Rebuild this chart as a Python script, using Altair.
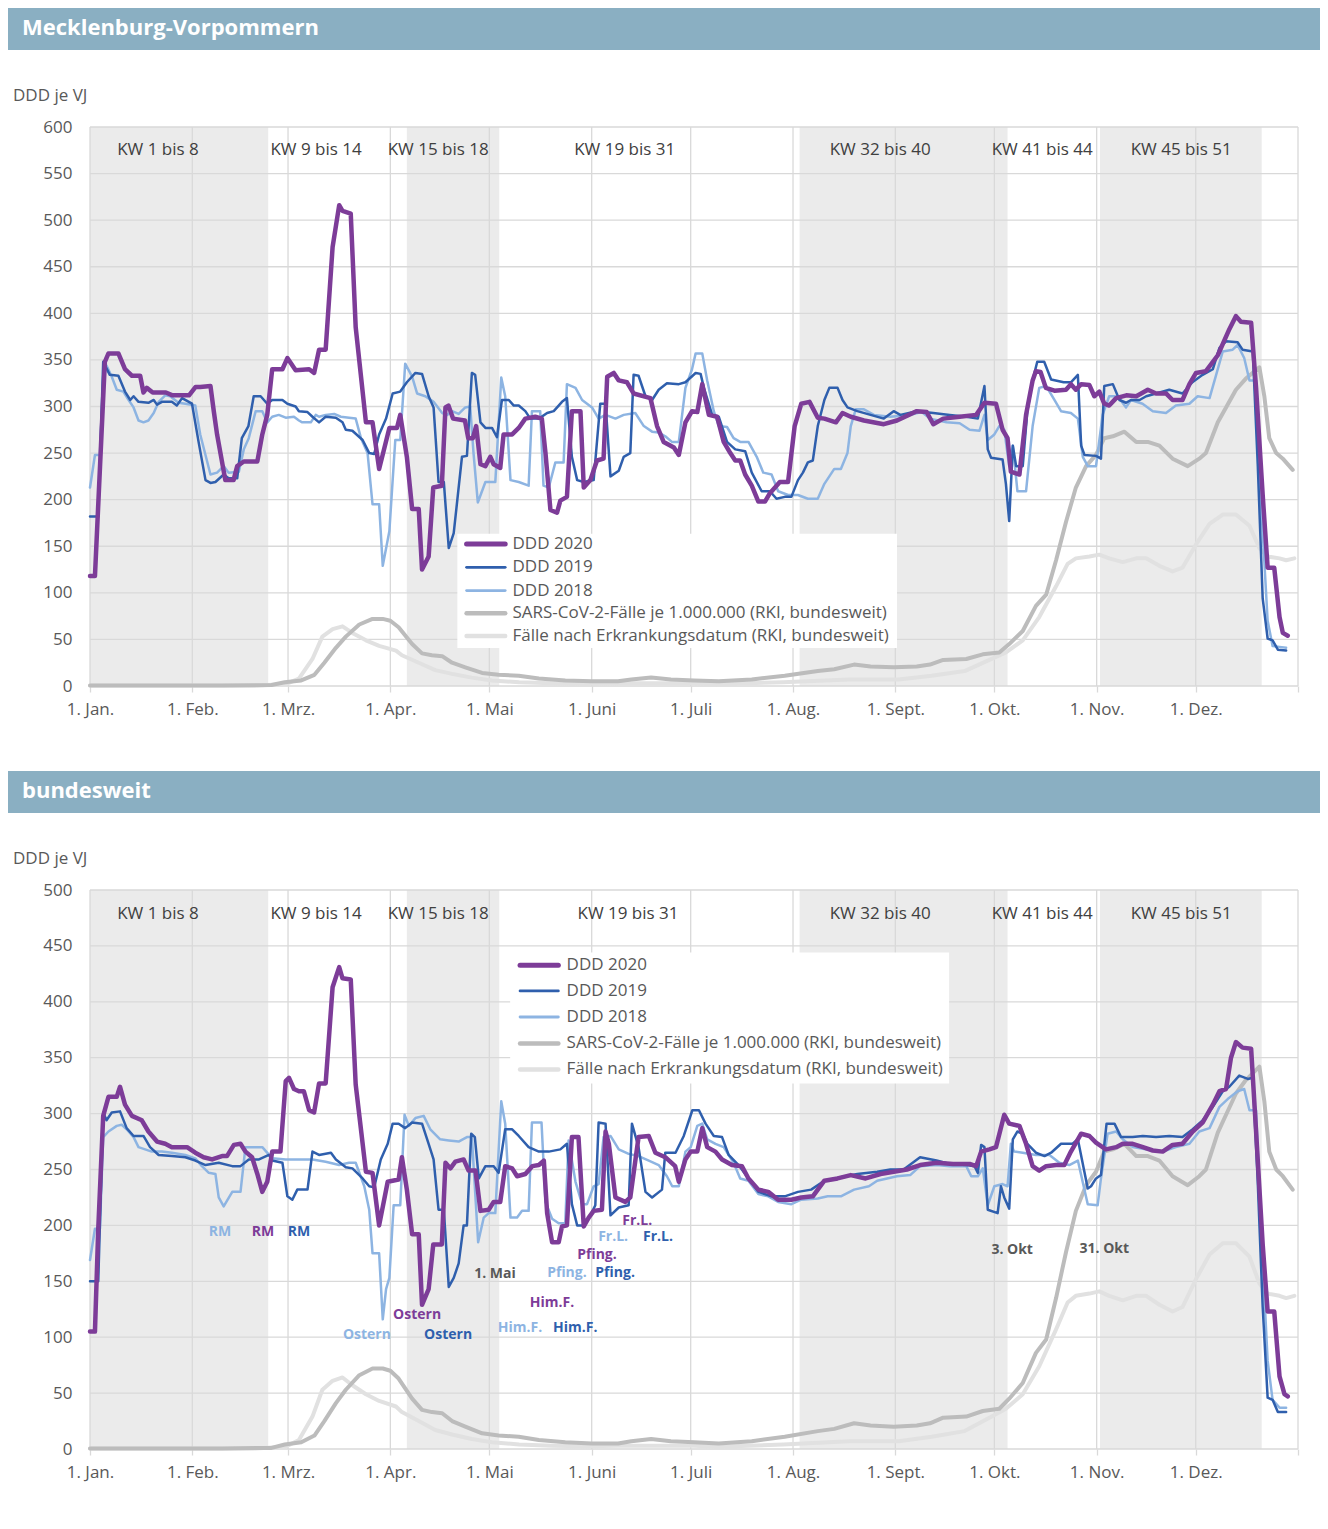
import altair as alt
import pandas as pd

# ---------------- data ----------------
MONTH_DAYS = [0, 31, 60, 91, 121, 152, 182, 213, 244, 274, 305, 335]
MONTH_LABELS = ["1. Jan.", "1. Feb.", "1. Mrz.", "1. Apr.", "1. Mai", "1. Juni",
                "1. Juli", "1. Aug.", "1. Sept.", "1. Okt.", "1. Nov.", "1. Dez."]
YEAR_END = 366

KW_BANDS = [(0, 54), (96, 124), (215, 278), (306, 355)]
KW_LABELS = ["KW 1 bis 8", "KW 9 bis 14", "KW 15 bis 18", "KW 19 bis 31",
             "KW 32 bis 40", "KW 41 bis 44", "KW 45 bis 51"]
KW_DAYS_MV = [20.6, 68.5, 105.5, 162, 239.4, 288.5, 330.6]
KW_DAYS_DE = [20.6, 68.5, 105.5, 163, 239.4, 288.5, 330.6]

SERIES = ["DDD 2020", "DDD 2019", "DDD 2018",
          "SARS-CoV-2-Fälle je 1.000.000 (RKI, bundesweit)",
          "Fälle nach Erkrankungsdatum (RKI, bundesweit)"]

# Mecklenburg-Vorpommern (day of year, DDD je VJ)
MV_2020 = [(0,118),(1.5,118),(4.5,348),(5.6,357),(8.6,357),(10.6,340),(12.7,333),(15.2,333),(16.2,315),(17.2,320),(19,315),(23,315),(25,312),(30,312),(32,321),(33.4,321),(36.5,322),(37.5,295),(38.5,270),(41,221),(43.5,221),(44.6,236),(46.6,241),(50.7,241),(52.2,270),(53.7,291),(55.2,340),(58.3,340),(59.8,352),(62.3,339),(66.4,340),(67.9,336),(69.4,361),(71.4,361),(73.5,471),(75.5,516),(76.5,510),(79,507),(80.5,385),(83.6,283),(85.6,283),(87.6,233),(90.7,277),(93,277),(94,291),(96,246),(97.6,190),(99.6,190),(100.6,125),(102.6,139),(104,213),(106.6,215),(107.7,299),(108.6,301),(110,287),(113.6,285),(114.6,266),(116,266),(117,279),(118.3,238),(119.8,236),(121.3,246),(122.3,238),(124.3,234),(125.3,270),(127.9,270),(129.9,277),(131.9,287),(134.9,289),(136.9,287),(138,250),(139.5,189),(141.5,186),(142.5,199),(144.5,203),(146,295),(148.6,295),(149.6,213),(151.6,221),(153.6,242),(155.6,244),(156.7,332),(158.7,336),(160.2,328),(162.7,326),(164.7,314),(169.8,309),(171.8,279),(173.8,262),(176.9,256),(178.4,248),(180.4,283),(182.4,295),(184,294),(185.5,324),(187.5,291),(190,289),(192,262),(194,250),(195.5,242),(197,242),(198.5,227),(200.5,215),(202.5,198),(204.5,198),(206,207),(209,219),(211.5,219),(213.5,279),(215.5,303),(218,305),(220.5,288),(222.5,287),(226,283),(228,293),(230.5,289),(234.5,285),(240.5,281),(244.5,285),(250.5,295),(253.5,294),(255.5,281),(258.5,287),(263.5,289),(268.5,291),(271,304),(274.5,303),(276.5,275),(278,266),(279,230),(281.6,227),(283.6,291),(285.6,328),(286.6,338),(288,337),(289.6,320),(292.2,317),(295.7,318),(297.2,324),(298.7,318),(300.3,324),(302.8,323),(304.3,311),(305.8,316),(307.3,303),(308.8,301),(310.9,309),(314,312),(317,311),(320.5,318),(323,314),(326,314),(328,307),(331,307),(333.1,324),(335.1,336),(338.1,338),(341.7,355),(345.2,383),(347.2,397),(348.7,391),(351.8,390),(353.3,320),(355.3,205),(356.8,127),(358.8,127),(360.4,74),(361.4,57),(362.9,54)]
MV_2019 = [(0,182),(2.5,182),(4,348),(6,334),(8.6,333),(10.6,316),(12.2,307),(13.2,311),(14.7,305),(17.7,304),(19.3,307),(20.3,302),(21.8,305),(24.8,305),(26.3,301),(27.9,309),(30.9,303),(32.9,262),(35,221),(36.5,218),(38,219),(40.5,227),(42,223),(44.6,223),(46,266),(48,279),(49.6,311),(51.7,311),(53.7,303),(55.2,307),(58.3,307),(59.8,303),(62.3,300),(63.3,295),(65.9,294),(67.4,289),(69.4,283),(71.4,289),(74.5,288),(76.5,283),(77.5,275),(79.5,274),(82.6,264),(84.6,250),(86.1,249),(87.6,270),(89.7,287),(91.7,314),(94,316),(96,326),(98.6,336),(100.6,335),(102.6,311),(104.1,299),(105.6,219),(107.2,219),(108.7,148),(110.2,164),(112.7,246),(114.2,247),(115.7,336),(116.7,334),(118.3,283),(119.8,277),(121.8,277),(123.3,267),(124.8,307),(126.9,307),(128.4,301),(129.9,301),(131.9,295),(133.4,287),(136,287),(138.5,293),(140.5,295),(142,301),(143,305),(144.5,309),(146,246),(147.6,221),(149.6,219),(152.6,221),(154.6,303),(156.2,303),(157.7,225),(160.2,231),(161.7,246),(163.7,250),(164.7,334),(166.2,333),(168.3,311),(170.3,307),(172.3,318),(174.8,325),(178.4,324),(180.4,326),(183.5,336),(185,335),(186,320),(188.5,291),(190.5,289),(193,262),(195.5,254),(198.5,252),(200.5,229),(203.5,209),(206,209),(208,201),(210.5,203),(212.5,203),(214.5,221),(216,229),(217.5,240),(219,242),(220.5,279),(222.5,307),(224,320),(226.5,320),(228,307),(229.5,299),(232.5,295),(236.5,291),(240.5,287),(243.5,295),(245.5,291),(250.5,295),(255.5,293),(260.5,291),(265.5,289),(269,287),(271,322),(272,254),(273,245),(276.5,243),(277.5,217),(278.5,177),(279.6,258),(280.6,236),(282.6,236),(284,295),(285.6,328),(287,348),(289.1,348),(291.2,329),(295,326),(297.2,326),(299.3,334),(300.3,258),(301.3,248),(304.8,247),(306.3,244),(307.3,322),(309.9,324),(311.9,307),(313.9,304),(315.4,307),(318,307),(320,311),(323,314),(327,318),(331,314),(334,326),(337.1,334),(340.2,340),(342.2,363),(344.2,370),(347.7,369),(349.2,361),(352.3,359),(353.8,238),(355.3,94),(356.8,51),(358.3,49),(359.9,39),(362.4,38)]
MV_2018 = [(0,213),(1.5,248),(3,248),(4,328),(5,344),(6.6,332),(8.1,318),(10.1,316),(11.7,307),(13.2,299),(14.7,285),(16.2,283),(17.7,285),(19.3,293),(20.8,305),(22.8,312),(24.3,311),(26.8,304),(28.9,303),(31.9,301),(33.4,270),(36.5,227),(38.5,229),(40.5,236),(42,229),(45.1,230),(46.6,254),(48.1,266),(50.2,295),(52.2,295),(53.7,283),(55.2,289),(57.2,291),(59.3,288),(61.8,289),(63.3,285),(64.3,283),(66.9,283),(68.4,291),(69.4,289),(71.4,291),(74,292),(76,289),(78.5,288),(80.5,287),(82.1,266),(84.1,250),(85.6,195),(87.6,195),(88.7,129),(90.7,166),(91.7,221),(92.5,264),(94,264),(95.5,346),(97.6,332),(99.1,314),(101.6,311),(104.1,305),(106.7,293),(108.2,291),(109.7,295),(111.7,292),(113.7,299),(115.2,300),(116.2,250),(117.5,197),(119.8,219),(122.8,219),(124.6,331),(125.8,311),(127.4,221),(129.9,219),(132.9,215),(133.9,295),(136.4,295),(137.4,215),(139,213),(141,240),(143.5,240),(144.5,324),(147.1,320),(149.1,307),(152.1,299),(154.1,287),(156.2,291),(159.2,287),(161.7,291),(165.2,293),(167.8,279),(170.3,273),(172.3,272),(174.3,268),(176.3,262),(178.4,262),(180.4,320),(182.4,340),(183.5,357),(185.5,357),(187,328),(189,295),(190.5,279),(193,278),(195,266),(197,262),(199.5,262),(202,246),(204,229),(206.5,227),(208.5,209),(211.5,205),(214.5,205),(217.5,201),(220.5,201),(222.5,217),(225.5,233),(227.5,233),(229.5,250),(230.5,279),(232,297),(234.5,297),(237.5,291),(242.5,289),(248.5,291),(252,294),(254.5,287),(259.5,283),(263.5,282),(266.5,275),(269.5,274),(271,291),(272,264),(274,270),(275.5,279),(277,275),(278.5,236),(279.6,258),(281,209),(283.6,209),(285.6,279),(287.6,320),(289.7,322),(292.2,307),(294.2,295),(297.2,293),(299.3,287),(300.8,246),(302.3,236),(304.8,236),(306.8,291),(308.8,311),(311.4,311),(313.9,299),(315.4,307),(318.9,303),(322,295),(326,293),(329,301),(333.1,303),(335.6,311),(339.2,309),(341.2,334),(343.2,359),(346.2,361),(347.7,366),(349.7,352),(351.3,328),(353.3,328),(354.8,197),(356.8,70),(358.3,43),(360.4,42),(362.4,41)]

# bundesweit
DE_2020 = [(0,105),(1.5,105),(2.5,197),(4,298),(5.6,315),(8.1,315),(9.1,324),(10.6,308),(12.7,298),(15.7,294),(17.7,284),(20.3,275),(22.8,273),(24.8,270),(29.4,270),(31.9,265),(34.4,261),(37,259),(40,262),(41.5,262),(43.6,272),(45.6,273),(47.1,266),(49.1,261),(50.7,246),(52.2,230),(53.7,239),(55.2,266),(57.7,266),(59.3,329),(60.3,332),(61.8,322),(63.3,320),(64.8,320),(66.4,303),(67.9,301),(69.4,327),(71.4,327),(73.5,413),(75.5,431),(76.5,421),(79,420),(80.5,326),(83.6,248),(85.6,247),(87.6,200),(90.2,239),(93.5,241),(94.5,261),(96,232),(97.6,192),(99.6,192),(100.6,129),(102.6,143),(104,183),(106.6,183),(107.7,256),(109.2,251),(110.7,257),(113.2,259),(114.7,249),(116.8,249),(118.3,213),(120.8,214),(122.3,221),(124.3,221),(125.8,253),(127.9,251),(129.4,244),(131.9,246),(134,253),(136,254),(137.5,258),(138.5,211),(140,185),(142,185),(143,199),(144.5,200),(146,279),(148,279),(149.6,199),(151.1,207),(152.6,213),(155.1,214),(156.2,284),(157.2,273),(159.2,225),(162.2,221),(163.7,225),(166.2,279),(169.3,280),(171.3,265),(174.3,261),(177.3,253),(178.4,239),(180.4,259),(182,266),(184,266),(185.5,287),(187,270),(189.5,266),(191.5,259),(194.5,254),(197.5,253),(199.5,242),(202.5,232),(205.5,230),(208.5,223),(212.5,223),(215.5,225),(219,226),(222.5,240),(226.5,242),(230.5,245),(235,242),(239.5,246),(243.5,248),(247.5,250),(251.5,254),(256.5,256),(261.5,255),(266.5,255),(268.5,253),(270,266),(272.5,268),(274.5,270),(277,299),(278.5,291),(281.6,289),(283.6,273),(285.6,253),(287.6,249),(289.7,253),(292.7,254),(295.2,254),(297.2,266),(300.3,282),(302.8,280),(304.8,274),(307.8,268),(310.9,270),(312.9,273),(315.9,273),(319,270),(322,267),(325,266),(328,272),(331,273),(334.1,284),(337.1,292),(340.2,308),(342.2,320),(344.2,322),(345.7,350),(347.2,364),(349.2,359),(351.8,358),(353.3,284),(355.3,183),(356.8,123),(358.8,123),(360.4,65),(361.9,49),(362.9,47)]
DE_2019 = [(0,150),(2.5,150),(4,301),(5,294),(6.6,301),(9.1,302),(11.1,287),(13.2,280),(16.2,280),(18.2,270),(20.8,263),(24.8,262),(28.9,261),(31.9,258),(35,254),(39,256),(43.1,253),(45.6,253),(48.1,259),(51.2,259),(54.2,263),(55.2,258),(58.3,256),(59.8,226),(61.3,223),(62.8,232),(65.9,232),(67.4,266),(69.4,263),(73,265),(74.5,259),(77.5,252),(79.5,251),(82.6,242),(84.6,235),(86.1,234),(88.1,259),(90.2,273),(91.7,291),(93.5,291),(95.5,287),(97.6,292),(100.6,291),(102.6,273),(104.1,259),(105.6,214),(107.2,214),(108.7,145),(110.2,153),(111.7,166),(113.2,200),(114.2,200),(115.5,282),(116.6,279),(117.8,242),(119.8,253),(122.3,253),(123.8,247),(125.8,286),(127.9,286),(129.9,280),(132.9,270),(136,266),(139,266),(142.5,268),(144.5,273),(146,219),(147.6,200),(149.6,200),(151.6,209),(153.1,218),(154.1,292),(156.2,291),(157.7,209),(160.2,216),(163.2,218),(164.2,291),(166.2,270),(168.3,230),(170.3,225),(173.3,232),(174.3,265),(177.4,265),(179.9,280),(182.5,303),(184.5,303),(186.5,291),(189,280),(191.5,279),(193.5,263),(196.5,254),(199.5,242),(202.5,230),(206.5,226),(210.5,226),(214.5,230),(218.5,232),(222.5,240),(227.5,243),(232.5,246),(238.5,248),(242.5,250),(246.5,250),(251.5,261),(256.5,258),(260.5,255),(265.5,254),(268,253),(269,247),(270,272),(271,270),(272,214),(275,211),(276,235),(277,225),(278.5,215),(279.6,277),(281,284),(282.6,282),(284,273),(286.6,265),(289.2,262),(291.2,265),(294.2,273),(297.7,273),(299.3,277),(302.3,233),(303.3,235),(304.8,242),(306.3,245),(308,291),(310.4,291),(312.4,279),(315.9,279),(319,280),(323,279),(327,280),(331,279),(334.1,286),(337.1,294),(340.2,306),(343.2,320),(345.2,324),(348.2,334),(350.8,331),(352.3,332),(353.8,239),(355.3,127),(356.8,46),(358.3,44),(359.9,33),(362.4,33)]
DE_2018 = [(0,169),(1.5,197),(3,197),(4,279),(5.6,284),(8.1,289),(9.6,290),(11.1,286),(13.2,279),(14.7,270),(16.7,268),(18.7,266),(21.8,266),(24.8,265),(28.9,263),(31.9,260),(33.9,253),(36,247),(38,246),(39,225),(40.5,217),(43.1,230),(45.6,230),(47.1,270),(49.1,270),(52.2,270),(55.2,260),(59.3,259),(63.3,259),(67.4,259),(71.4,257),(75.5,254),(78.5,256),(80.5,256),(83.1,235),(84.6,214),(85.6,175),(87.6,175),(88.7,116),(89.7,143),(90.7,153),(92,218),(94,218),(95.3,299),(96.6,289),(98.6,296),(101.1,298),(103.1,286),(106.1,277),(108.7,276),(111.7,275),(114.2,279),(115.7,279),(117.6,185),(119.3,207),(120.8,211),(122.8,211),(124.6,311),(125.8,291),(127.4,207),(129.4,207),(130.9,213),(132.9,213),(133.9,292),(136.8,292),(138,221),(140,206),(142,202),(144,202),(145,276),(147.1,239),(149.1,219),(150.6,219),(152.6,235),(154.1,237),(155.6,279),(157.7,280),(160.2,268),(163.2,264),(166.2,262),(169.3,258),(172.3,254),(174.8,244),(176.4,235),(178.4,235),(180.4,266),(182,270),(184,289),(185.5,291),(187,277),(189.5,273),(192,270),(195,256),(197,242),(199.5,240),(202.5,228),(205.5,226),(208.5,221),(212.5,219),(215.5,223),(220.5,224),(223.5,226),(227.5,226),(231.5,232),(236,235),(238.5,240),(244.5,244),(248.5,245),(251.5,253),(256.5,254),(260.5,253),(265.5,253),(267,244),(269,244),(270.5,251),(272,218),(274,235),(276.5,237),(278,235),(279,273),(280,266),(282.6,265),(286.6,263),(290.7,263),(293.7,256),(296.7,254),(299.3,258),(302.3,219),(305.3,218),(306.3,242),(308.3,282),(310.9,284),(312.9,277),(315.9,270),(319.9,268),(325,266),(329,270),(333.1,273),(336.1,284),(339.2,287),(342.2,306),(344.7,313),(347.7,320),(349.7,322),(351.3,303),(353.3,303),(354.8,197),(356.8,79),(358.3,44),(360.4,37),(362.4,37)]

# RKI (bundesweit, shown in both panels)
RKI_FAELLE = [(0,0.5),(40,0.5),(55,1),(59,4),(64,6),(68,12),(71,25),(74.5,41),(77.5,53),(81.6,66),(85.6,72),(88.7,72),(91,70),(93.5,63),(97.6,45),(100.6,35),(103.6,33),(106.7,32),(109.7,25),(113.7,20),(118.8,14),(123.8,12),(129.9,11),(136,8),(144,6),(152,5),(160,5),(164,7),(170,9),(176,7),(183,6),(190.5,5),(200.5,7),(210.5,11),(220.5,16),(225.5,18),(231.5,23),(236.5,21),(243.5,20),(250.5,21),(254.5,23),(258.5,28),(265.5,29),(270.5,34),(275.5,36),(278.5,45),(282.6,59),(286.6,86),(289.7,98),(292.7,135),(295.7,176),(298.7,213),(301.8,236),(304.8,248),(307.3,266),(309.9,268),(313.4,273),(317,262),(320.5,262),(324,258),(328,244),(332.6,236),(336.1,244),(338.1,250),(341.7,283),(344.2,299),(347.2,318),(350.2,330),(354.3,342),(355.8,311),(357.3,266),(359.4,250),(361.4,244),(364.4,232)]
RKI_ERKRANKUNG = [(0,0.5),(50,0.5),(59.3,2),(63.3,8),(67.4,29),(70.4,53),(73.5,61),(76.5,64),(79.5,57),(83.6,49),(87.6,43),(92.7,38),(94.5,33),(99.6,25),(104.6,17),(109.7,13),(115.7,9),(121.8,6),(130,4),(140,3),(150,2.5),(160,3),(170,3),(183,3),(190,2),(210,4),(230,7),(245,7),(255,11),(265,16),(272.5,28),(277.5,36),(282.6,49),(287.6,74),(292.7,107),(296.2,131),(298.7,137),(302.8,139),(305.8,141),(308.8,137),(312.9,133),(317,137),(320,137),(324,129),(328,123),(331,127),(335.1,152),(339.2,174),(343.2,184),(347.2,184),(351.3,172),(354.3,148),(356.8,139),(360.4,137),(362.4,135),(364.9,137)]

# annotations (bundesweit): day, value, text, colour key
NOTES_DE = [(39.4,194,"RM","c18"),(52.4,194,"RM","c20"),(63.3,194,"RM","c19"),
            (83.9,102,"Ostern","c18"),(99.1,120,"Ostern","c20"),(108.5,102,"Ostern","c19"),
            (122.7,156.5,"1. Mai","txt"),
            (140,130.6,"Him.F.","c20"),(130.3,108,"Him.F.","c18"),(147,108,"Him.F.","c19"),
            (144.5,157.4,"Pfing.","c18"),(159.1,157.4,"Pfing.","c19"),(153.6,173.5,"Pfing.","c20"),
            (165.8,204,"Fr.L.","c20"),(158.5,189.6,"Fr.L.","c18"),(172.1,189.6,"Fr.L.","c19"),
            (279.4,178,"3. Okt","txt"),(307.3,179,"31. Okt","txt")]

# legend placement in data units: box (x0,x1,y0,y1), symbol x-range, text x, row values
LEG_MV = dict(box=(111.3, 244.5, 40.8, 163.5), sym=(114.1, 125.8), text=128.0,
              rows=[152.4, 127.4, 102.4, 78.1, 53.7])
LEG_DE = dict(box=(127.3, 260.3, 327, 444), sym=(130.3, 141.9), text=144.4,
              rows=[432.7, 409.7, 386.4, 362.8, 339.5])

# ---------------- styles ----------------
FONT = "Open Sans"
GRID = "#d9d9d9"
BAND = "#ebebeb"
LABEL = "#595959"
HEADER = "#8aafc2"
COL = {"c20": "#7d3c98", "c19": "#2f5fad", "c18": "#8db4e2",
       "sars": "#bcbcbc", "erk": "#e1e1e1", "txt": "#595959"}
SERIES_COLORS = [COL["c20"], COL["c19"], COL["c18"], COL["sars"], COL["erk"]]
SERIES_WIDTHS = [4.5, 2.5, 2.5, 4.0, 4.0]
PLOT_W, PLOT_H = 1208, 559

LABEL_EXPR = ("[" + ",".join("'" + l + "'" for l in MONTH_LABELS + [""]) + "][indexof(["
              + ",".join(str(d) for d in MONTH_DAYS + [YEAR_END]) + "], datum.value)]")


def panel(title, ymax, s20, s19, s18, kw_days, kw_val, leg, notes):
    xs = alt.Scale(domain=[0, YEAR_END], nice=False, zero=False)
    ys = alt.Scale(domain=[0, ymax], nice=False, zero=True)
    xaxis = alt.Axis(values=MONTH_DAYS + [YEAR_END], labelExpr=LABEL_EXPR, title=None,
                     grid=False, domain=False, ticks=True, tickColor=GRID, tickSize=6,
                     tickWidth=1.3, labelFontSize=17, labelColor=LABEL, labelPadding=9,
                     labelFont=FONT, labelOverlap=False, labelFlush=False)
    yaxis = alt.Axis(values=list(range(0, ymax + 1, 50)), title=None, grid=False,
                     domain=False, ticks=False, labelFontSize=17, labelColor=LABEL,
                     labelPadding=18, labelFont=FONT)

    def X(f):
        return alt.X(f, scale=xs, axis=xaxis)

    def Y(f):
        return alt.Y(f, scale=ys, axis=yaxis)

    layers = []
    bands = pd.DataFrame(KW_BANDS, columns=["a", "b"])
    bands["y0"] = 0
    bands["y1"] = ymax
    layers.append(alt.Chart(bands).mark_rect(color=BAND).encode(
        x=X("a:Q"), x2="b:Q", y=Y("y0:Q"), y2="y1:Q"))
    hg = pd.DataFrame({"v": list(range(0, ymax + 1, 50))})
    layers.append(alt.Chart(hg).mark_rule(color=GRID, strokeWidth=1.3).encode(y=Y("v:Q")))
    vg = pd.DataFrame({"d": MONTH_DAYS + [YEAR_END]})
    layers.append(alt.Chart(vg).mark_rule(color=GRID, strokeWidth=1.3).encode(x=X("d:Q")))
    kw = pd.DataFrame({"d": kw_days, "t": KW_LABELS})
    kw["v"] = kw_val
    layers.append(alt.Chart(kw).mark_text(fontSize=17, color="#404040", font=FONT).encode(
        x=X("d:Q"), y=Y("v:Q"), text="t:N"))

    series_data = [s20, s19, s18, RKI_FAELLE, RKI_ERKRANKUNG]
    for i in [4, 3, 2, 1, 0]:
        df = pd.DataFrame(series_data[i], columns=["d", "v"])
        layers.append(alt.Chart(df).mark_line(
            color=SERIES_COLORS[i], strokeWidth=SERIES_WIDTHS[i],
            strokeJoin="round", strokeCap="round").encode(x=X("d:Q"), y=Y("v:Q")))

    bx = leg["box"]
    box = pd.DataFrame({"x0": [bx[0]], "x1": [bx[1]], "y0": [bx[2]], "y1": [bx[3]]})
    layers.append(alt.Chart(box).mark_rect(color="white").encode(
        x=X("x0:Q"), x2="x1:Q", y=Y("y0:Q"), y2="y1:Q"))
    lg = pd.DataFrame({"y": leg["rows"], "t": SERIES, "c": SERIES_COLORS,
                       "w": [5, 2.8, 2.8, 4.5, 4.5]})
    lg["xa"] = leg["sym"][0]
    lg["xb"] = leg["sym"][1]
    lg["xt"] = leg["text"]
    layers.append(alt.Chart(lg).mark_rule(strokeCap="round").encode(
        x=X("xa:Q"), x2="xb:Q", y=Y("y:Q"),
        color=alt.Color("c:N", scale=None), strokeWidth=alt.StrokeWidth("w:Q", scale=None)))
    layers.append(alt.Chart(lg).mark_text(align="left", baseline="middle", fontSize=17,
                                          color=LABEL, font=FONT).encode(
        x=X("xt:Q"), y=Y("y:Q"), text="t:N"))

    if notes:
        nd = pd.DataFrame(notes, columns=["d", "v", "t", "k"])
        nd["c"] = [COL[k] for k in nd["k"]]
        layers.append(alt.Chart(nd).mark_text(fontSize=14, fontWeight="bold", font=FONT).encode(
            x=X("d:Q"), y=Y("v:Q"), text="t:N", color=alt.Color("c:N", scale=None)))

    head = pd.DataFrame({"t": [title]})
    layers.append(alt.Chart(head).mark_rect(color=HEADER).encode(
        x=alt.value(-82), x2=alt.value(1230), y=alt.value(-119), y2=alt.value(-77)))
    layers.append(alt.Chart(head).mark_text(align="left", baseline="middle", fontSize=22,
                                            fontWeight="bold", color="white", font=FONT).encode(
        x=alt.value(-68), y=alt.value(-99), text="t:N"))
    unit = pd.DataFrame({"t": ["DDD je VJ"]})
    layers.append(alt.Chart(unit).mark_text(align="left", baseline="middle", fontSize=17,
                                            color=LABEL, font=FONT).encode(
        x=alt.value(-77), y=alt.value(-31), text="t:N"))

    return alt.layer(*layers).properties(width=PLOT_W, height=PLOT_H)


top = panel("Mecklenburg-Vorpommern", 600, MV_2020, MV_2019, MV_2018,
            KW_DAYS_MV, 575, LEG_MV, None)
bottom = panel("bundesweit", 500, DE_2020, DE_2019, DE_2018,
               KW_DAYS_DE, 478.5, LEG_DE, NOTES_DE)

chart = (alt.vconcat(top, bottom, spacing=204, bounds="flush")
         .resolve_scale(x="independent", y="independent")
         .properties(padding={"left": 0, "top": 0, "right": 0, "bottom": 24})
         .configure(font=FONT)
         .configure_view(strokeWidth=0))

chart.save("out.html", embed_options={"renderer": "svg", "actions": False})
